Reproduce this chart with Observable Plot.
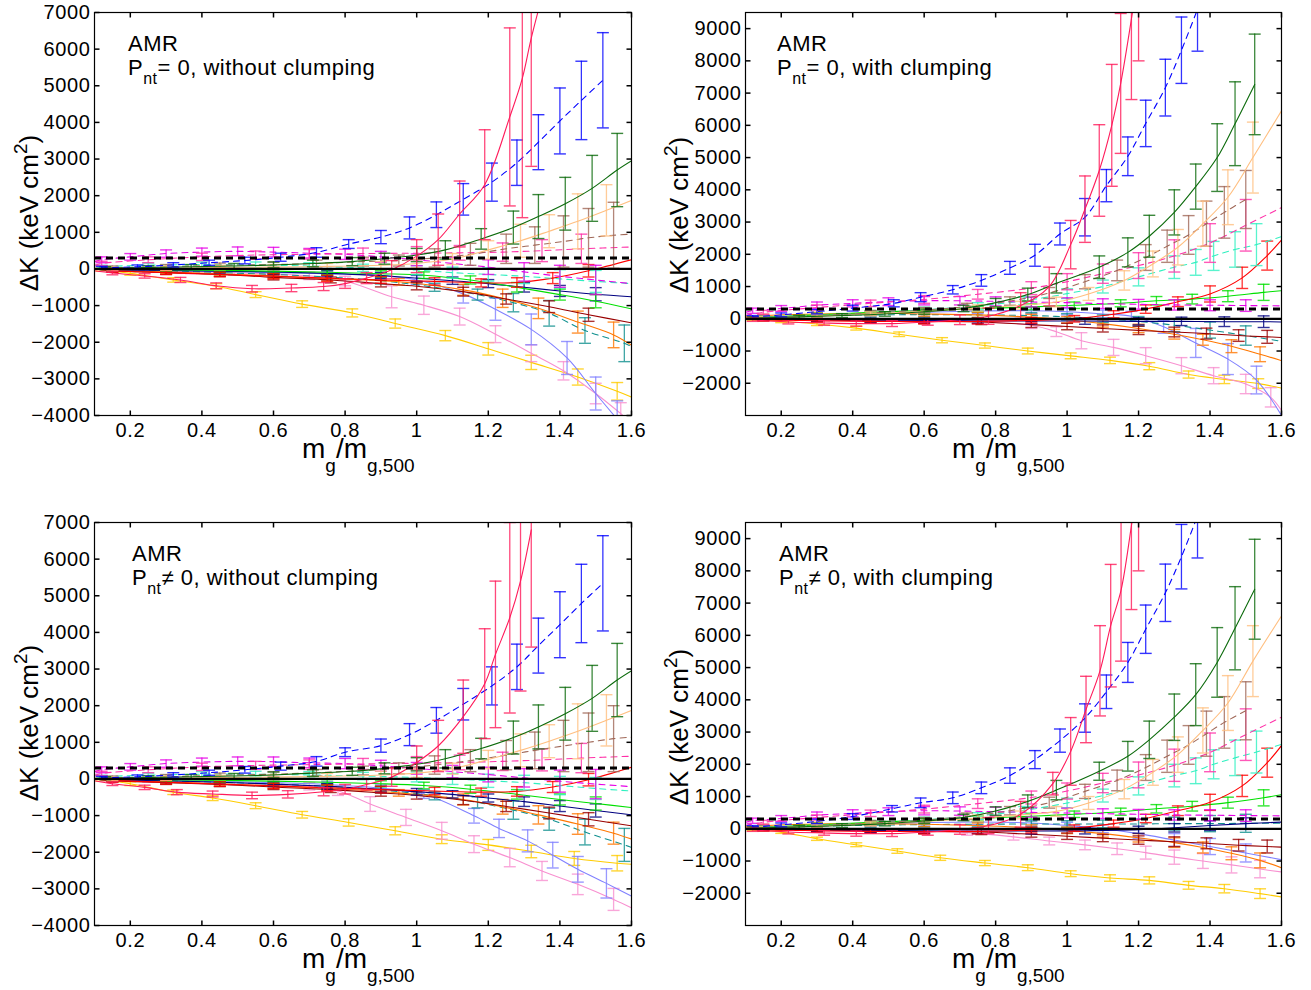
<!DOCTYPE html>
<html><head><meta charset="utf-8">
<script src="https://cdn.jsdelivr.net/npm/d3@7"></script>
<script src="https://cdn.jsdelivr.net/npm/@observablehq/plot@0.6"></script>
<style>
body{margin:0;background:#fff;}
#fig{position:relative;width:1311px;height:990px;overflow:hidden;}
.panel{position:absolute;width:655px;height:505px;}
.panel text{letter-spacing:0.6px;}
#labels{position:absolute;left:0;top:0;pointer-events:none;}
</style></head>
<body><div id="fig"></div>
<script>
// ---------- axis ticks ----------
const xTicks = [0.2,0.4,0.6,0.8,1.0,1.2,1.4,1.6];
const yTicksLeft = [-4000,-3000,-2000,-1000,0,1000,2000,3000,4000,5000,6000,7000];
const yTicksRight = [-2000,-1000,0,1000,2000,3000,4000,5000,6000,7000,8000,9000];
const yDomainLeft = [-4000,7000];
const yDomainRight = [-3000,9500];
const xDomain = [0.1,1.6];
const zeroLevel = [0];
const dashedLevel = [300];

// ---------- series (draw order) ----------
const seriesNames  = ["gold","pink","periwinkle","teal","orange","darkred","navy","lime","red","aqua","magenta","hotpink","brown","peach","darkgreen","blue","crimson"];
const seriesColors = ["#ffcc00","#f890d0","#8080ff","#10908f","#ff7700","#990000","#000080","#00e000","#ff0000","#30f0c0","#e600e6","#ff30a8","#a06858","#ffbf80","#0b6a0b","#0000ff","#ff1a5a"];
const seriesDashed = [false,false,false,true,false,false,false,false,false,true,true,true,true,false,false,true,false];

// rows: [x, value, error half-width]  (null error = line only)
// ----- Panel 1: Pnt = 0, without clumping -----
const p1_gold = [[0.1,0,null],[0.12,-20,40],[0.2,-120,50],[0.32,-300,60],[0.44,-470,70],[0.55,-700,80],[0.68,-960,90],[0.82,-1200,110],[0.94,-1490,125],[1.08,-1820,140],[1.2,-2180,170],[1.32,-2550,195],[1.45,-2950,220],[1.56,-3340,240],[1.6,-3500,null]];
const p1_pink = [[0.1,0,null],[0.13,-20,40],[0.25,-40,50],[0.37,-70,60],[0.49,-100,70],[0.6,-140,80],[0.7,-190,100],[0.8,-330,130],[0.93,-760,300],[1.02,-990,250],[1.12,-1300,230],[1.22,-1780,230],[1.32,-2300,230],[1.41,-2780,250],[1.5,-3400,280],[1.57,-3950,300],[1.6,-4200,null]];
const p1_periwinkle = [[0.1,0,null],[0.15,-20,40],[0.3,-40,50],[0.45,-70,60],[0.6,-100,70],[0.75,-130,80],[0.9,-180,90],[1.0,-300,120],[1.13,-680,250],[1.22,-1100,300],[1.32,-1650,420],[1.42,-2430,450],[1.5,-3400,450],[1.56,-4100,500]];
const p1_teal = [[0.1,0,null],[0.15,-20,40],[0.3,-50,50],[0.45,-100,60],[0.6,-150,70],[0.75,-220,80],[0.9,-320,90],[1.05,-500,110],[1.17,-700,150],[1.27,-920,250],[1.37,-1210,350],[1.47,-1680,350],[1.58,-2030,500],[1.6,-2120,null]];
const p1_orange = [[0.1,0,null],[0.15,-30,40],[0.3,-80,50],[0.45,-130,60],[0.6,-190,70],[0.75,-260,80],[0.95,-350,90],[1.13,-570,150],[1.24,-800,250],[1.34,-1075,280],[1.45,-1450,300],[1.55,-1800,350],[1.6,-2080,null]];
const p1_darkred = [[0.1,0,null],[0.15,-50,40],[0.3,-100,50],[0.45,-150,60],[0.6,-230,70],[0.76,-300,80],[0.9,-400,90],[1.0,-470,100],[1.13,-620,120],[1.25,-820,140],[1.37,-1030,160],[1.48,-1250,180],[1.6,-1470,null]];
const p1_navy = [[0.1,0,null],[0.15,-20,40],[0.3,-40,50],[0.45,-60,50],[0.6,-80,60],[0.75,-120,70],[0.9,-180,80],[1.0,-250,90],[1.1,-320,100],[1.2,-400,110],[1.3,-500,130],[1.4,-600,150],[1.5,-690,180],[1.6,-760,null]];
const p1_lime = [[0.1,0,null],[0.15,-10,40],[0.3,-20,50],[0.45,-40,50],[0.6,-60,60],[0.75,-90,70],[0.9,-130,80],[1.02,-170,90],[1.15,-300,110],[1.28,-500,130],[1.4,-700,150],[1.5,-880,180],[1.6,-1090,null]];
const p1_red = [[0.1,0,null],[0.15,-50,40],[0.3,-100,50],[0.45,-150,60],[0.6,-200,70],[0.75,-250,80],[0.9,-300,90],[1.05,-340,100],[1.18,-380,110],[1.28,-370,130],[1.38,-250,150],[1.48,-50,170],[1.6,250,null]];
const p1_aqua = [[0.1,0,null],[0.12,50,50],[0.25,100,60],[0.4,120,70],[0.55,110,80],[0.7,80,90],[0.85,30,100],[1.0,-30,120],[1.1,-100,150],[1.2,-150,180],[1.3,-200,200],[1.4,-270,250],[1.5,-340,300],[1.6,-400,null]];
const p1_magenta = [[0.1,200,null],[0.12,250,80],[0.2,330,90],[0.3,420,100],[0.4,460,110],[0.5,480,120],[0.6,460,130],[0.7,430,130],[0.8,400,140],[0.9,330,150],[1.0,250,160],[1.1,150,170],[1.2,50,200],[1.3,-80,250],[1.4,-200,300],[1.5,-300,400],[1.6,-400,null]];
const p1_hotpink = [[0.1,100,null],[0.12,150,60],[0.25,250,80],[0.4,330,100],[0.55,380,110],[0.7,400,130],[0.85,420,150],[1.0,430,180],[1.12,440,200],[1.24,460,250],[1.35,500,300],[1.46,550,400],[1.6,600,null]];
const p1_brown = [[0.1,0,null],[0.15,30,50],[0.3,60,60],[0.45,100,60],[0.6,120,70],[0.72,150,90],[0.85,200,120],[0.95,230,150],[1.05,300,250],[1.15,400,300],[1.25,550,400],[1.33,650,500],[1.41,750,700],[1.48,850,800],[1.55,920,900],[1.6,950,null]];
const p1_peach = [[0.1,0,null],[0.15,0,50],[0.3,20,60],[0.45,40,60],[0.6,50,70],[0.75,70,80],[0.9,100,100],[1.0,150,120],[1.1,270,150],[1.2,520,250],[1.29,770,450],[1.37,1030,450],[1.45,1300,750],[1.53,1600,700],[1.6,1870,null]];
const p1_darkgreen = [[0.1,0,null],[0.13,20,40],[0.25,40,50],[0.37,60,60],[0.49,80,70],[0.6,110,80],[0.71,150,90],[0.82,200,110],[0.91,280,150],[1.0,380,180],[1.08,520,250],[1.18,820,280],[1.27,1130,450],[1.34,1430,600],[1.415,1780,720],[1.49,2200,900],[1.56,2700,1000],[1.6,2950,null]];
const p1_blue = [[0.12,30,40],[0.22,60,50],[0.32,110,60],[0.42,170,70],[0.52,230,90],[0.62,320,110],[0.72,450,130],[0.81,680,120],[0.9,870,180],[0.98,1120,300],[1.055,1480,350],[1.13,1900,430],[1.21,2370,520],[1.28,2900,620],[1.34,3460,750],[1.4,4040,900],[1.46,4600,1070],[1.52,5150,1300]];
const p1_crimson = [[0.1,-50,null],[0.15,-110,50],[0.24,-190,60],[0.34,-300,70],[0.44,-460,80],[0.54,-540,90],[0.65,-520,100],[0.74,-480,110],[0.8,-400,130],[0.86,-250,150],[0.93,-20,250],[1.0,350,450],[1.06,800,700],[1.12,1500,900],[1.19,2300,1500],[1.26,4150,2430],[1.295,5200,3800],[1.32,6300,3500],[1.36,7800,null]];

// ----- Panel 2: Pnt = 0, with clumping -----
const p2_gold = [[0.1,0,null],[0.12,-20,30],[0.2,-80,40],[0.3,-160,50],[0.41,-290,60],[0.53,-480,70],[0.65,-665,80],[0.77,-830,80],[0.89,-1000,90],[1.01,-1150,90],[1.12,-1290,100],[1.23,-1470,110],[1.34,-1730,110],[1.44,-1880,130],[1.535,-2010,150],[1.6,-2150,null]];
const p2_pink = [[0.1,0,null],[0.15,-20,40],[0.3,-40,50],[0.45,-60,60],[0.6,-70,70],[0.75,-90,80],[0.9,-200,100],[0.97,-400,150],[1.04,-681,250],[1.13,-888,250],[1.22,-1145,250],[1.32,-1455,250],[1.41,-1765,250],[1.5,-2023,300],[1.57,-2436,300],[1.6,-2848,null]];
const p2_periwinkle = [[0.1,0,null],[0.15,40,40],[0.3,100,50],[0.45,150,60],[0.6,200,70],[0.75,240,80],[0.9,250,90],[1.0,220,100],[1.1,150,120],[1.18,80,150],[1.27,-250,200],[1.36,-750,450],[1.45,-1250,480],[1.53,-1900,430],[1.6,-3000,null]];
const p2_teal = [[0.1,0,null],[0.15,50,40],[0.3,100,50],[0.45,120,60],[0.6,130,70],[0.75,120,80],[0.9,100,90],[1.0,60,100],[1.1,0,120],[1.2,-80,150],[1.3,-200,200],[1.4,-350,250],[1.5,-520,300],[1.6,-700,null]];
const p2_orange = [[0.1,50,null],[0.15,100,40],[0.3,150,50],[0.45,170,60],[0.6,150,70],[0.75,120,80],[0.9,50,90],[1.0,-30,100],[1.1,-150,110],[1.2,-300,130],[1.3,-480,150],[1.38,-650,170],[1.46,-850,200],[1.54,-1100,230],[1.6,-1300,null]];
const p2_darkred = [[0.1,0,null],[0.15,-20,40],[0.3,-40,50],[0.45,-60,60],[0.6,-80,70],[0.76,-100,80],[0.9,-180,90],[1.0,-240,100],[1.1,-300,110],[1.2,-360,130],[1.3,-410,150],[1.39,-460,170],[1.48,-520,180],[1.56,-560,200],[1.6,-580,null]];
const p2_navy = [[0.1,0,null],[0.15,-10,40],[0.3,-20,50],[0.45,-40,60],[0.6,-50,70],[0.75,-60,80],[0.9,-70,90],[1.05,-70,100],[1.2,-80,110],[1.32,-80,130],[1.44,-90,150],[1.55,-90,180],[1.6,-100,null]];
const p2_lime = [[0.1,0,null],[0.15,50,40],[0.3,120,50],[0.45,200,60],[0.6,260,70],[0.75,310,80],[0.9,370,90],[1.02,420,100],[1.15,480,110],[1.25,560,130],[1.35,610,150],[1.45,700,170],[1.55,820,250],[1.6,870,null]];
const p2_red = [[0.1,0,null],[0.15,-30,40],[0.3,-60,50],[0.45,-80,60],[0.6,-90,70],[0.75,-80,80],[0.9,-50,90],[1.02,0,100],[1.13,140,110],[1.22,300,130],[1.31,530,150],[1.4,770,250],[1.49,1270,330],[1.56,1960,450],[1.6,2440,null]];
const p2_aqua = [[0.1,0,null],[0.15,50,50],[0.3,100,60],[0.45,180,70],[0.6,280,80],[0.75,400,100],[0.88,560,120],[1.0,780,150],[1.1,1000,200],[1.2,1300,280],[1.3,1600,350],[1.36,1750,400],[1.41,1950,450],[1.47,2150,550],[1.53,2300,650],[1.6,2550,null]];
const p2_magenta = [[0.1,200,null],[0.12,250,80],[0.2,320,90],[0.3,420,100],[0.4,480,110],[0.5,530,120],[0.6,560,130],[0.7,560,130],[0.8,540,140],[0.9,520,150],[1.0,500,150],[1.1,470,150],[1.2,450,150],[1.3,430,160],[1.4,420,170],[1.5,410,180],[1.6,400,null]];
const p2_hotpink = [[0.1,100,null],[0.15,200,60],[0.3,350,80],[0.45,480,100],[0.6,600,120],[0.75,760,150],[0.9,950,200],[1.0,1150,250],[1.1,1400,300],[1.2,1650,400],[1.3,1950,500],[1.4,2350,600],[1.5,2900,800],[1.6,3450,null]];
const p2_brown = [[0.1,0,null],[0.15,40,50],[0.3,100,60],[0.45,180,70],[0.6,270,80],[0.72,380,100],[0.84,550,130],[0.95,800,170],[1.05,1150,220],[1.14,1500,320],[1.22,1900,400],[1.28,2250,500],[1.34,2600,600],[1.39,2950,700],[1.44,3300,800],[1.5,3700,900]];
const p2_peach = [[0.1,0,null],[0.15,30,40],[0.3,80,50],[0.45,150,60],[0.6,230,80],[0.75,330,100],[0.87,420,120],[0.97,520,150],[1.06,770,200],[1.16,1190,300],[1.24,1700,400],[1.31,2220,550],[1.38,2950,700],[1.45,3770,850],[1.52,5000,1100],[1.6,6450,null]];
const p2_darkgreen = [[0.1,0,null],[0.12,20,40],[0.25,60,50],[0.37,100,60],[0.49,150,70],[0.6,220,80],[0.71,320,100],[0.8,500,130],[0.89,750,200],[0.97,1100,300],[1.09,1600,350],[1.17,2060,450],[1.23,2560,650],[1.3,3300,700],[1.36,4100,700],[1.42,5000,1050],[1.47,6050,1300],[1.525,7270,1560]];
const p2_blue = [[0.12,50,50],[0.2,120,60],[0.3,220,70],[0.4,330,90],[0.515,480,110],[0.59,670,140],[0.68,900,130],[0.76,1190,180],[0.84,1580,200],[0.91,1970,340],[0.98,2630,340],[1.05,3150,580],[1.11,4130,500],[1.17,5040,600],[1.22,6060,720],[1.275,7170,880],[1.32,8330,1030],[1.365,9600,1300]];
const p2_crimson = [[0.1,0,null],[0.12,-30,50],[0.22,-100,60],[0.32,-130,70],[0.41,-150,80],[0.51,-150,90],[0.61,-100,100],[0.7,-30,150],[0.78,80,250],[0.87,410,400],[0.95,1000,600],[1.01,2300,750],[1.05,3400,1030],[1.09,4600,1420],[1.125,6000,1890],[1.15,7300,2170],[1.18,9300,2500],[1.2,10800,2800]];

// ----- Panel 3: Pnt != 0, without clumping -----
const p3_gold = [[0.1,0,null],[0.12,-20,40],[0.2,-130,50],[0.32,-365,60],[0.43,-520,70],[0.55,-730,80],[0.68,-977,90],[0.81,-1187,100],[0.94,-1415,110],[1.07,-1644,120],[1.2,-1800,150],[1.32,-1980,170],[1.44,-2170,190],[1.56,-2300,210],[1.6,-2330,null]];
const p3_pink = [[0.1,0,null],[0.13,-20,40],[0.25,-40,50],[0.37,-60,60],[0.49,-90,70],[0.6,-130,80],[0.7,-200,100],[0.78,-320,130],[0.87,-685,200],[0.97,-1050,220],[1.07,-1415,230],[1.16,-1780,230],[1.26,-2146,250],[1.35,-2511,260],[1.45,-2877,280],[1.55,-3288,300],[1.6,-3516,null]];
const p3_periwinkle = [[0.1,0,null],[0.15,-20,40],[0.3,-40,50],[0.45,-70,60],[0.6,-100,70],[0.75,-150,80],[0.9,-250,90],[1.02,-411,120],[1.16,-1005,200],[1.23,-1350,250],[1.31,-1690,300],[1.38,-2080,350],[1.45,-2466,350],[1.53,-2850,400],[1.6,-3196,null]];
const p3_teal = [[0.1,0,null],[0.15,-20,40],[0.3,-50,50],[0.45,-90,60],[0.6,-140,70],[0.75,-200,80],[0.9,-300,90],[1.05,-460,110],[1.17,-640,150],[1.27,-850,250],[1.37,-1100,300],[1.47,-1450,350],[1.58,-1800,450],[1.6,-1870,null]];
const p3_orange = [[0.1,0,null],[0.15,-30,40],[0.3,-80,50],[0.45,-130,60],[0.6,-190,70],[0.75,-260,80],[0.95,-380,90],[1.13,-560,150],[1.24,-760,200],[1.34,-980,250],[1.45,-1230,280],[1.55,-1480,300],[1.6,-1640,null]];
const p3_darkred = [[0.1,0,null],[0.15,-50,40],[0.3,-100,50],[0.45,-150,60],[0.6,-220,70],[0.76,-290,80],[0.9,-380,90],[1.0,-450,100],[1.13,-580,120],[1.25,-750,140],[1.37,-930,160],[1.48,-1100,180],[1.6,-1280,null]];
const p3_navy = [[0.1,0,null],[0.15,-20,40],[0.3,-50,50],[0.45,-90,50],[0.6,-140,60],[0.75,-200,70],[0.9,-280,80],[1.0,-350,90],[1.1,-420,100],[1.2,-520,110],[1.3,-620,130],[1.4,-740,150],[1.5,-860,180],[1.6,-980,null]];
const p3_lime = [[0.1,0,null],[0.15,-10,40],[0.3,-20,50],[0.45,-40,50],[0.6,-60,60],[0.75,-90,70],[0.9,-130,80],[1.02,-180,90],[1.15,-280,110],[1.28,-420,130],[1.4,-560,150],[1.5,-670,180],[1.6,-780,null]];
const p3_red = [[0.1,0,null],[0.15,-40,40],[0.3,-90,50],[0.45,-140,60],[0.6,-190,70],[0.75,-240,80],[0.9,-290,90],[1.05,-330,100],[1.18,-360,110],[1.28,-340,130],[1.38,-220,150],[1.48,-20,170],[1.6,320,null]];
const p3_aqua = [[0.1,0,null],[0.12,50,50],[0.25,100,60],[0.4,130,70],[0.55,130,80],[0.7,110,90],[0.85,80,100],[1.0,40,120],[1.1,0,150],[1.2,-50,180],[1.3,-100,200],[1.4,-180,250],[1.5,-260,300],[1.6,-330,null]];
const p3_magenta = [[0.1,200,null],[0.12,250,80],[0.2,330,90],[0.3,420,100],[0.4,460,110],[0.5,480,120],[0.6,470,130],[0.7,440,130],[0.8,420,140],[0.9,360,150],[1.0,290,160],[1.1,200,170],[1.2,120,200],[1.3,30,250],[1.4,-60,300],[1.5,-140,400],[1.6,-210,null]];
const p3_hotpink = [[0.1,100,null],[0.12,150,60],[0.25,250,80],[0.4,330,100],[0.55,370,110],[0.7,390,130],[0.85,410,150],[1.0,430,180],[1.12,450,200],[1.24,480,250],[1.35,520,300],[1.46,570,400],[1.6,620,null]];
const p3_brown = [[0.1,0,null],[0.15,30,50],[0.3,60,60],[0.45,100,60],[0.6,130,70],[0.72,170,90],[0.85,230,120],[0.95,290,150],[1.05,380,250],[1.15,500,300],[1.25,650,400],[1.33,780,500],[1.41,900,700],[1.48,1000,800],[1.55,1100,900],[1.6,1140,null]];
const p3_peach = [[0.1,0,null],[0.15,0,50],[0.3,20,60],[0.45,40,60],[0.6,50,70],[0.75,70,80],[0.9,110,100],[1.0,160,120],[1.1,280,150],[1.2,530,250],[1.29,780,450],[1.37,1030,450],[1.45,1300,750],[1.53,1600,700],[1.6,1870,null]];
const p3_darkgreen = [[0.1,0,null],[0.13,20,40],[0.25,40,50],[0.37,60,60],[0.49,80,70],[0.6,110,80],[0.71,160,90],[0.82,210,110],[0.91,290,150],[1.0,400,180],[1.08,550,250],[1.18,830,280],[1.27,1130,450],[1.34,1420,600],[1.415,1780,720],[1.49,2200,900],[1.56,2700,1000],[1.6,2950,null]];
const p3_blue = [[0.12,30,40],[0.22,60,50],[0.32,110,60],[0.42,170,70],[0.52,250,90],[0.62,350,110],[0.72,480,130],[0.8,730,120],[0.9,910,180],[0.98,1210,300],[1.055,1600,350],[1.13,2040,430],[1.21,2540,520],[1.28,3060,620],[1.34,3640,750],[1.4,4210,900],[1.46,4790,1070],[1.52,5340,1300]];
const p3_crimson = [[0.1,-50,null],[0.15,-130,50],[0.24,-230,60],[0.33,-360,70],[0.43,-410,80],[0.54,-450,90],[0.64,-420,100],[0.74,-350,110],[0.8,-280,130],[0.86,-150,150],[0.93,50,250],[1.0,450,450],[1.06,900,700],[1.13,1700,1000],[1.19,2600,1500],[1.22,3400,2000],[1.26,4400,2600],[1.29,5400,3000],[1.32,6800,3200]];

// ----- Panel 4: Pnt != 0, with clumping -----
const p4_gold = [[0.1,0,null],[0.12,-30,30],[0.2,-103,40],[0.3,-310,50],[0.41,-495,60],[0.525,-690,70],[0.645,-900,80],[0.77,-1063,80],[0.89,-1207,90],[1.01,-1393,90],[1.12,-1527,100],[1.23,-1600,110],[1.34,-1754,120],[1.44,-1858,130],[1.54,-2012,150],[1.6,-2115,null]];
const p4_pink = [[0.1,0,null],[0.15,-20,40],[0.3,-40,50],[0.45,-60,60],[0.6,-80,70],[0.72,-120,80],[0.85,-250,100],[0.95,-380,120],[1.05,-500,150],[1.14,-620,180],[1.22,-740,200],[1.3,-880,220],[1.38,-1000,230],[1.46,-1120,250],[1.54,-1250,270],[1.6,-1340,null]];
const p4_periwinkle = [[0.1,0,null],[0.15,40,40],[0.3,100,50],[0.45,150,60],[0.6,190,70],[0.75,210,80],[0.9,180,90],[1.0,100,100],[1.1,0,120],[1.2,-150,150],[1.3,-350,200],[1.4,-550,250],[1.5,-750,280],[1.6,-960,null]];
const p4_teal = [[0.1,0,null],[0.15,40,40],[0.3,80,50],[0.45,110,60],[0.6,130,70],[0.75,140,80],[0.9,150,90],[1.0,150,100],[1.1,150,120],[1.2,150,150],[1.3,160,200],[1.4,160,250],[1.5,170,280],[1.6,170,null]];
const p4_orange = [[0.1,50,null],[0.15,100,40],[0.3,150,50],[0.45,160,60],[0.6,140,70],[0.75,100,80],[0.9,30,90],[1.0,-50,100],[1.1,-150,110],[1.2,-280,130],[1.3,-430,150],[1.38,-580,170],[1.46,-760,200],[1.54,-980,230],[1.6,-1210,null]];
const p4_darkred = [[0.1,0,null],[0.15,-20,40],[0.3,-40,50],[0.45,-60,60],[0.6,-80,70],[0.76,-100,80],[0.9,-170,90],[1.0,-230,100],[1.1,-290,110],[1.2,-350,130],[1.3,-400,150],[1.39,-450,170],[1.48,-510,180],[1.56,-550,200],[1.6,-570,null]];
const p4_navy = [[0.1,0,null],[0.15,-10,40],[0.3,-30,50],[0.45,-50,60],[0.6,-60,70],[0.75,-70,80],[0.9,-70,90],[1.05,-60,100],[1.2,-30,110],[1.3,30,130],[1.4,100,150],[1.5,160,180],[1.6,206,null]];
const p4_lime = [[0.1,0,null],[0.15,50,40],[0.3,120,50],[0.45,200,60],[0.6,260,70],[0.75,320,80],[0.9,390,90],[1.02,450,100],[1.15,530,110],[1.25,620,130],[1.35,700,150],[1.45,810,170],[1.55,960,250],[1.6,1060,null]];
const p4_red = [[0.1,0,null],[0.15,-30,40],[0.3,-60,50],[0.45,-80,60],[0.6,-90,70],[0.75,-80,80],[0.9,-40,90],[1.02,20,100],[1.13,160,110],[1.22,320,130],[1.31,560,150],[1.4,820,250],[1.49,1330,330],[1.56,2050,450],[1.6,2580,null]];
const p4_aqua = [[0.1,0,null],[0.15,50,50],[0.3,100,60],[0.45,180,70],[0.6,280,80],[0.75,400,100],[0.88,570,120],[1.0,800,150],[1.1,1030,200],[1.2,1330,280],[1.3,1650,350],[1.36,1800,400],[1.41,2000,450],[1.47,2200,550],[1.53,2380,650],[1.6,2620,null]];
const p4_magenta = [[0.1,200,null],[0.12,250,80],[0.2,320,90],[0.3,420,100],[0.4,480,110],[0.5,530,120],[0.6,560,130],[0.7,550,130],[0.8,530,140],[0.9,510,150],[1.0,490,150],[1.1,470,150],[1.2,450,150],[1.3,430,160],[1.4,420,170],[1.5,410,180],[1.6,400,null]];
const p4_hotpink = [[0.1,100,null],[0.15,200,60],[0.3,350,80],[0.45,480,100],[0.6,610,120],[0.75,780,150],[0.9,970,200],[1.0,1170,250],[1.1,1420,300],[1.2,1670,400],[1.3,1970,500],[1.4,2370,600],[1.5,2920,800],[1.6,3460,null]];
const p4_brown = [[0.1,0,null],[0.15,40,50],[0.3,100,60],[0.45,180,70],[0.6,270,80],[0.72,390,100],[0.84,560,130],[0.95,810,170],[1.05,1160,220],[1.14,1500,320],[1.22,1900,400],[1.28,2250,500],[1.34,2600,600],[1.39,2950,700],[1.44,3300,800],[1.5,3660,900]];
const p4_peach = [[0.1,0,null],[0.15,30,40],[0.3,80,50],[0.45,150,60],[0.6,230,80],[0.75,330,100],[0.87,430,120],[0.97,540,150],[1.06,800,200],[1.16,1230,300],[1.24,1750,400],[1.31,2300,550],[1.38,3050,700],[1.45,3900,850],[1.52,5200,1100],[1.6,6600,null]];
const p4_darkgreen = [[0.1,0,null],[0.12,20,40],[0.25,60,50],[0.37,100,60],[0.49,160,70],[0.6,240,80],[0.71,350,100],[0.8,550,130],[0.89,850,200],[0.97,1200,300],[1.09,1785,280],[1.17,2250,460],[1.23,2760,580],[1.3,3460,720],[1.36,4160,960],[1.42,5160,1080],[1.47,6220,1290],[1.525,7430,1550]];
const p4_blue = [[0.12,50,50],[0.2,120,60],[0.3,230,70],[0.4,380,90],[0.51,620,100],[0.59,805,150],[0.68,960,180],[0.76,1270,180],[0.84,1650,240],[0.91,2145,280],[0.98,2735,360],[1.05,3435,440],[1.11,4250,520],[1.17,5160,620],[1.22,6190,750],[1.275,7320,890],[1.32,8440,1000],[1.365,9700,1300]];
const p4_crimson = [[0.1,0,null],[0.12,-30,50],[0.22,-100,60],[0.32,-130,70],[0.41,-150,80],[0.51,-150,90],[0.61,-100,100],[0.7,-20,150],[0.78,100,250],[0.87,450,400],[0.96,1400,350],[1.01,2400,1050],[1.053,3700,1030],[1.092,4900,1400],[1.122,6300,1900],[1.151,7400,2200],[1.18,9400,2600],[1.2,10900,2900]];

const panel1 = [p1_gold,p1_pink,p1_periwinkle,p1_teal,p1_orange,p1_darkred,p1_navy,p1_lime,p1_red,p1_aqua,p1_magenta,p1_hotpink,p1_brown,p1_peach,p1_darkgreen,p1_blue,p1_crimson];
const panel2 = [p2_gold,p2_pink,p2_periwinkle,p2_teal,p2_orange,p2_darkred,p2_navy,p2_lime,p2_red,p2_aqua,p2_magenta,p2_hotpink,p2_brown,p2_peach,p2_darkgreen,p2_blue,p2_crimson];
const panel3 = [p3_gold,p3_pink,p3_periwinkle,p3_teal,p3_orange,p3_darkred,p3_navy,p3_lime,p3_red,p3_aqua,p3_magenta,p3_hotpink,p3_brown,p3_peach,p3_darkgreen,p3_blue,p3_crimson];
const panel4 = [p4_gold,p4_pink,p4_periwinkle,p4_teal,p4_orange,p4_darkred,p4_navy,p4_lime,p4_red,p4_aqua,p4_magenta,p4_hotpink,p4_brown,p4_peach,p4_darkgreen,p4_blue,p4_crimson];

// ---------- pixel-constant symbols ----------
const capSymbol = {draw(ctx){ctx.moveTo(-6,0);ctx.lineTo(6,0);}};
const tickUp    = {draw(ctx){ctx.moveTo(0,0);ctx.lineTo(0,-5);}};
const tickDown  = {draw(ctx){ctx.moveTo(0,0);ctx.lineTo(0,5);}};
const tickRight = {draw(ctx){ctx.moveTo(0,0);ctx.lineTo(5,0);}};
const tickLeft  = {draw(ctx){ctx.moveTo(0,0);ctx.lineTo(-5,0);}};

const fmtY = d => d < 0 ? "\u2212" + Math.abs(d) : String(d);
const fmtX = d => String(+d.toFixed(1));

function makePanel(series, yDomain, yTicks, marginRight) {
  const marks = [];
  series.forEach((arr, i) => {
    const rows = arr.map(([x, y, e]) => ({x, y, e}));
    const bars = rows.filter(d => d.e != null);
    const color = seriesColors[i];
    marks.push(Plot.ruleX(bars, {x: "x", y1: d => d.y - d.e, y2: d => d.y + d.e, stroke: color, strokeWidth: 1.3, strokeOpacity: 0.8, clip: true}));
    marks.push(Plot.dot(bars, {x: "x", y: d => d.y + d.e, symbol: capSymbol, stroke: color, fill: "none", strokeWidth: 1.4, strokeOpacity: 0.8, clip: true}));
    marks.push(Plot.dot(bars, {x: "x", y: d => d.y - d.e, symbol: capSymbol, stroke: color, fill: "none", strokeWidth: 1.4, strokeOpacity: 0.8, clip: true}));
    marks.push(Plot.line(rows, {x: "x", y: "y", stroke: color, strokeWidth: 1.1, curve: "catmull-rom", strokeDasharray: seriesDashed[i] ? "6,5" : null, clip: true}));
  });
  marks.push(Plot.ruleY(zeroLevel, {stroke: "black", strokeWidth: 2.3, clip: true}));
  marks.push(Plot.ruleY(dashedLevel, {stroke: "black", strokeWidth: 3, strokeDasharray: "7,5", clip: true}));
  marks.push(Plot.frame({stroke: "black", strokeWidth: 1.2}));
  marks.push(Plot.dot(xTicks, {x: d => d, y: () => yDomain[0], symbol: tickUp, stroke: "black", fill: "none"}));
  marks.push(Plot.dot(xTicks, {x: d => d, y: () => yDomain[1], symbol: tickDown, stroke: "black", fill: "none"}));
  marks.push(Plot.dot(yTicks, {x: () => xDomain[0], y: d => d, symbol: tickRight, stroke: "black", fill: "none"}));
  marks.push(Plot.dot(yTicks, {x: () => xDomain[1], y: d => d, symbol: tickLeft, stroke: "black", fill: "none"}));
  marks.push(Plot.axisX(xTicks, {tickSize: 0, tickPadding: 7, tickFormat: fmtX, label: null}));
  marks.push(Plot.axisY(yTicks, {tickSize: 0, tickPadding: 4, tickFormat: fmtY, label: null}));
  return Plot.plot({
    width: 655, height: 505,
    marginLeft: 94, marginRight: marginRight, marginTop: 12, marginBottom: 90,
    x: {domain: xDomain, label: null},
    y: {domain: yDomain, label: null},
    style: {fontFamily: "'Liberation Sans', Arial, sans-serif", fontSize: "20px", background: "transparent", overflow: "visible", color: "black"},
    marks
  });
}

const fig = document.getElementById("fig");
const layout = [
  [panel1, yDomainLeft, yTicksLeft, 0, 0, 24],
  [panel2, yDomainRight, yTicksRight, 651, 0, 25],
  [panel3, yDomainLeft, yTicksLeft, 0, 510, 24],
  [panel4, yDomainRight, yTicksRight, 651, 510, 25]
];
for (const [ser, yd, yt, left, top, mr] of layout) {
  const div = document.createElement("div");
  div.className = "panel";
  div.style.left = left + "px";
  div.style.top = top + "px";
  div.appendChild(makePanel(ser, yd, yt, mr));
  fig.appendChild(div);
}

// ---------- labels & annotations ----------
const NS = "http://www.w3.org/2000/svg";
const yLabelPos = [[38,213],[688,215],[38,723],[688,727]];
const xLabelPos = [[302,458],[952,458],[302,968],[952,968]];
const notePos = [[128,51],[777,51],[132,561],[779,561]];
const noteRel = ["= 0, without clumping","= 0, with clumping","\u2260 0, without clumping","\u2260 0, with clumping"];
let svg = `<svg id="labels" xmlns="${NS}" width="1311" height="990" font-family="'Liberation Sans', Arial, sans-serif" fill="black">`;
yLabelPos.forEach(([x,y]) => {
  svg += `<text transform="translate(${x},${y}) rotate(-90)" text-anchor="middle" font-size="26">\u0394K (keV cm<tspan dy="-11" font-size="19">2</tspan><tspan dy="11">)</tspan></text>`;
});
xLabelPos.forEach(([x,y]) => {
  svg += `<text x="${x}" y="${y}" font-size="28">m<tspan dy="14" font-size="19">g</tspan><tspan dy="-14">/m</tspan><tspan dy="14" font-size="19">g,500</tspan></text>`;
});
notePos.forEach(([x,y], i) => {
  svg += `<text x="${x}" y="${y}" font-size="22" letter-spacing="0.5">AMR</text>`;
  svg += `<text x="${x}" y="${y+24}" font-size="22" letter-spacing="0.5">P<tspan dy="9" font-size="16">nt</tspan><tspan dy="-9">${noteRel[i]}</tspan></text>`;
});
svg += `</svg>`;
fig.insertAdjacentHTML("beforeend", svg);
</script>
</body></html>
